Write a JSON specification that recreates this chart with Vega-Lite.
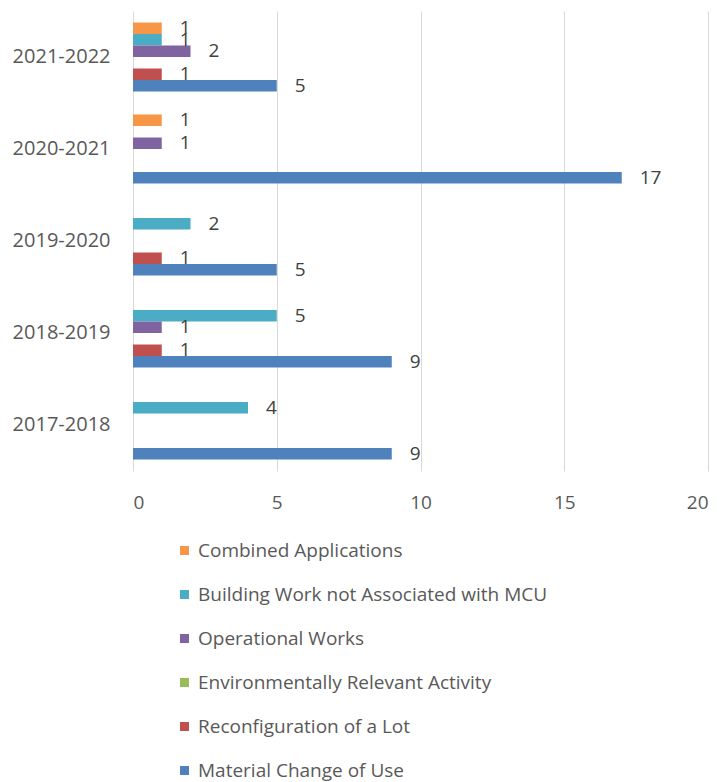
{
  "$schema": "https://vega.github.io/schema/vega-lite/v6.json",
  "width": 575,
  "height": 460,
  "autosize": {"type": "none"},
  "padding": {"left": 133, "top": 11, "right": 13, "bottom": 311},
  "background": "white",
  "config": {
    "font": "Open Sans",
    "view": {"stroke": null}
  },
  "data": {
    "values": [
      {"year": "2021-2022", "type": "Combined Applications", "count": 1},
      {"year": "2021-2022", "type": "Building Work not Associated with MCU", "count": 1},
      {"year": "2021-2022", "type": "Operational Works", "count": 2},
      {"year": "2021-2022", "type": "Reconfiguration of a Lot", "count": 1},
      {"year": "2021-2022", "type": "Material Change of Use", "count": 5},
      {"year": "2020-2021", "type": "Combined Applications", "count": 1},
      {"year": "2020-2021", "type": "Operational Works", "count": 1},
      {"year": "2020-2021", "type": "Material Change of Use", "count": 17},
      {"year": "2019-2020", "type": "Building Work not Associated with MCU", "count": 2},
      {"year": "2019-2020", "type": "Reconfiguration of a Lot", "count": 1},
      {"year": "2019-2020", "type": "Material Change of Use", "count": 5},
      {"year": "2018-2019", "type": "Building Work not Associated with MCU", "count": 5},
      {"year": "2018-2019", "type": "Operational Works", "count": 1},
      {"year": "2018-2019", "type": "Reconfiguration of a Lot", "count": 1},
      {"year": "2018-2019", "type": "Material Change of Use", "count": 9},
      {"year": "2017-2018", "type": "Building Work not Associated with MCU", "count": 4},
      {"year": "2017-2018", "type": "Material Change of Use", "count": 9}
    ]
  },
  "encoding": {
    "y": {
      "field": "year", "type": "nominal",
      "scale": {"domain": ["2021-2022", "2020-2021", "2019-2020", "2018-2019", "2017-2018"], "paddingInner": 0.25, "paddingOuter": 0.125},
      "axis": {"title": null, "domain": false, "ticks": false, "labelPadding": 23, "labelFontSize": 20, "labelColor": "#595959"}
    },
    "yOffset": {
      "field": "type", "type": "nominal",
      "scale": {"domain": ["Combined Applications", "Building Work not Associated with MCU", "Operational Works", "Environmentally Relevant Activity", "Reconfiguration of a Lot", "Material Change of Use"], "paddingInner": 0, "paddingOuter": 0}
    },
    "x": {
      "field": "count", "type": "quantitative",
      "scale": {"domain": [0, 20], "nice": false},
      "axis": {"title": null, "values": [0, 5, 10, 15, 20], "domain": false, "ticks": false, "grid": true, "gridColor": "#d9d9d9", "labelPadding": 22, "labelFontSize": 19, "labelColor": "#595959"}
    }
  },
  "layer": [
    {
      "mark": {"type": "bar"},
      "encoding": {
        "color": {
          "field": "type", "type": "nominal",
          "scale": {
            "domain": ["Combined Applications", "Building Work not Associated with MCU", "Operational Works", "Environmentally Relevant Activity", "Reconfiguration of a Lot", "Material Change of Use"],
            "range": ["#F79646", "#4BACC6", "#8064A2", "#9BBB59", "#C0504D", "#4F81BD"]
          },
          "legend": {
            "title": null, "orient": "none", "legendX": 42, "legendY": 530, "direction": "vertical",
            "symbolType": "square", "symbolSize": 81, "symbolStrokeWidth": 0,
            "labelFontSize": 19, "labelColor": "#595959", "labelLimit": 0, "rowPadding": 24, "labelOffset": 4, "padding": 0
          }
        }
      }
    },
    {
      "mark": {"type": "text", "align": "left", "baseline": "middle", "dx": 18, "fontSize": 19, "color": "#404040"},
      "encoding": {"text": {"field": "count", "type": "quantitative"}}
    }
  ]
}
